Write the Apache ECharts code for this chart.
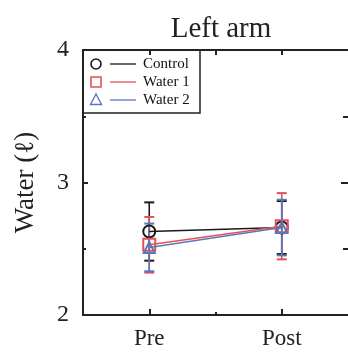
<!DOCTYPE html>
<html><head><meta charset="utf-8">
<script src="https://cdn.jsdelivr.net/npm/echarts@6/dist/echarts.min.js"></script>
<style>html,body{margin:0;padding:0;background:#fff}#c{width:348px;height:352px}</style>
</head><body><div id="c"></div>
<script>
const categories = ['Pre', 'Post'];
const seriesNames = ['Control', 'Water 1', 'Water 2'];
const controlMean = [2.63, 2.66];
const controlErr = [0.22, 0.20];
const water1Mean = [2.53, 2.67];
const water1Err = [0.21, 0.25];
const water2Mean = [2.51, 2.66];
const water2Err = [0.18, 0.21];
const yTicks = [2, 3, 4];
const title = 'Left arm';
const yName = 'Water (\u2113)';

const colors = ['#1a1a1a', '#e4505c', '#5a78b8'];
const symbols = ['circle', 'rect', 'triangle'];
const symSizes = [12, 12, 11];
const means = [controlMean, water1Mean, water2Mean];
const errs = [controlErr, water1Err, water2Err];
const FONT = '"Liberation Serif","DejaVu Serif",serif';

const chart = echarts.init(document.getElementById('c'));
const series = [];
[0, 1, 2].forEach(k => {
  series.push({
    type: 'custom', name: seriesNames[k] + ' err', z: 2 + k,
    data: categories.map((c, i) => [i + 1, means[k][i] - errs[k][i], means[k][i] + errs[k][i]]),
    renderItem: (params, api) => {
      const lo = api.coord([api.value(0), api.value(1)]);
      const hi = api.coord([api.value(0), api.value(2)]);
      const w = 5;
      const st = { stroke: colors[k], lineWidth: 1.6 };
      return { type: 'group', children: [
        { type: 'line', shape: { x1: lo[0], y1: lo[1], x2: hi[0], y2: hi[1] }, style: st },
        { type: 'line', shape: { x1: lo[0] - w, y1: lo[1], x2: lo[0] + w, y2: lo[1] }, style: { stroke: colors[k], lineWidth: 2 } },
        { type: 'line', shape: { x1: hi[0] - w, y1: hi[1], x2: hi[0] + w, y2: hi[1] }, style: { stroke: colors[k], lineWidth: 2 } }
      ]};
    }
  });
});
[0, 1, 2].forEach(k => {
  series.push({
    type: 'line', name: seriesNames[k], z: 10 + k,
    data: categories.map((c, i) => [i + 1, means[k][i]]),
    symbol: symbols[k], symbolSize: symSizes[k],
    itemStyle: { color: 'rgba(255,255,255,0)', borderColor: colors[k], borderWidth: 2 },
    lineStyle: { color: colors[k], width: 1.6 },
    emphasis: { disabled: true }, silent: true
  });
});

const legendChildren = [
  { type: 'rect', shape: { x: 83, y: 50, width: 117, height: 63 }, style: { fill: '#fff', stroke: '#222', lineWidth: 1.5 } }
];
[0, 1, 2].forEach(k => {
  const y = 64 + k * 18;
  let marker;
  if (k === 0) marker = { type: 'circle', shape: { cx: 96, cy: y, r: 5 }, style: { fill: 'none', stroke: colors[k], lineWidth: 1.6 } };
  else if (k === 1) marker = { type: 'rect', shape: { x: 91, y: y - 5, width: 10, height: 10 }, style: { fill: 'none', stroke: colors[k], lineWidth: 1.6 } };
  else marker = { type: 'polygon', shape: { points: [[96, y - 6], [90.5, y + 4.5], [101.5, y + 4.5]] }, style: { fill: 'none', stroke: colors[k], lineWidth: 1.4 } };
  legendChildren.push(marker);
  legendChildren.push({ type: 'line', shape: { x1: 110, y1: y, x2: 136, y2: y }, style: { stroke: colors[k], lineWidth: 1.3 } });
  legendChildren.push({ type: 'text', x: 143, y: y, style: { text: seriesNames[k], fill: '#111', font: '15px ' + FONT, textVerticalAlign: 'middle', verticalAlign: 'middle' } });
});

const axisLineStyle = { color: '#222', width: 2 };
chart.setOption({
  animation: false,
  title: { text: title, left: 216, top: 10, textAlign: 'center', textStyle: { fontFamily: FONT, fontWeight: 'normal', fontSize: 29, color: '#222' } },
  grid: { left: 83, top: 50, width: 267, height: 265 },
  xAxis: [
    { type: 'value', min: 0.5, max: 2.5, position: 'bottom',
      axisLine: { show: true, lineStyle: axisLineStyle },
      axisTick: { show: true, inside: true, length: 6, customValues: [1, 2], lineStyle: { color: '#222', width: 2 } },
      axisLabel: { customValues: [1, 2], formatter: v => categories[Math.round(v) - 1] || '', fontFamily: FONT, fontSize: 23, color: '#222', margin: 12 },
      splitLine: { show: false } },
    { type: 'value', min: 0.5, max: 2.5, position: 'bottom',
      axisLine: { show: false },
      axisTick: { show: true, inside: true, length: 3, customValues: [1.5], lineStyle: { color: '#222', width: 2 } },
      axisLabel: { show: false }, splitLine: { show: false } },
    { type: 'value', min: 0.5, max: 2.5, position: 'top',
      axisLine: { show: true, lineStyle: axisLineStyle },
      axisTick: { show: true, inside: true, length: 5, customValues: [1, 1.5, 2], lineStyle: { color: '#222', width: 2 } },
      axisLabel: { show: false }, splitLine: { show: false } }
  ],
  yAxis: [
    { type: 'value', min: 2, max: 4, interval: 1, position: 'left',
      name: yName, nameLocation: 'middle', nameGap: 44,
      nameTextStyle: { fontFamily: FONT, fontSize: 27, color: '#222' },
      axisLine: { show: true, lineStyle: axisLineStyle },
      axisTick: { show: true, inside: true, length: 5, lineStyle: { color: '#222', width: 2 } },
      minorTick: { show: true, splitNumber: 2, length: 3, lineStyle: { color: '#222', width: 2 } },
      axisLabel: { customValues: yTicks, fontFamily: FONT, fontSize: 24, color: '#222', margin: 14 },
      splitLine: { show: false }, minorSplitLine: { show: false } },
    { type: 'value', min: 2, max: 4, interval: 1, position: 'right',
      axisLine: { show: false },
      axisTick: { show: true, inside: true, length: 7, lineStyle: { color: '#222', width: 2 } },
      minorTick: { show: true, splitNumber: 2, length: 5, lineStyle: { color: '#222', width: 2 } },
      axisLabel: { show: false }, splitLine: { show: false }, minorSplitLine: { show: false } }
  ],
  series: series,
  graphic: legendChildren
});
</script></body></html>
